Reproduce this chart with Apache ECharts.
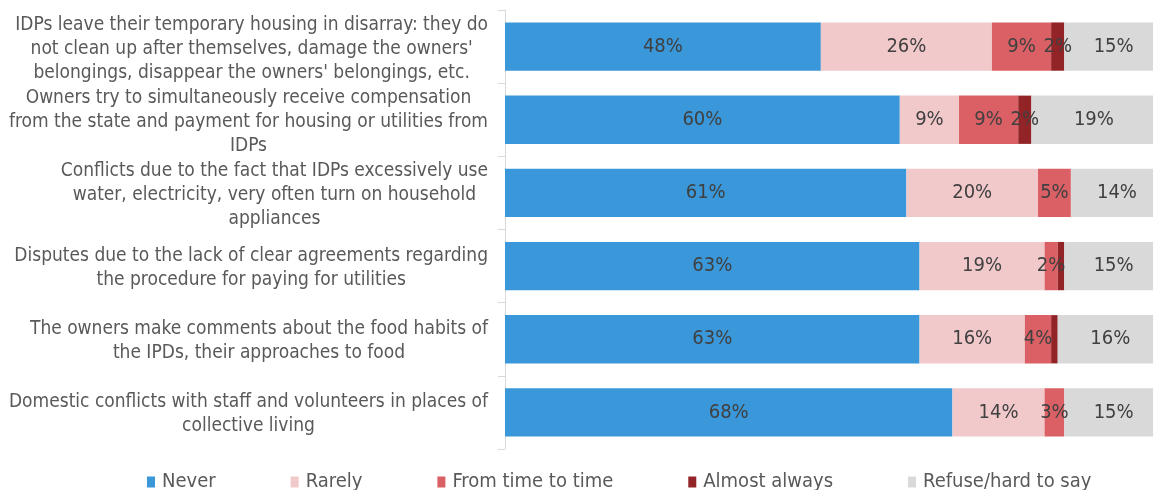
<!DOCTYPE html>
<html>
<head>
<meta charset="utf-8">
<script src="https://cdn.jsdelivr.net/npm/echarts@6/dist/echarts.min.js"></script>
<style>
  html, body { margin: 0; padding: 0; background: #fff; overflow: hidden; }
  #chart { width: 1163px; height: 490px; }
</style>
</head>
<body>
<div id="chart"></div>
<script>
'use strict';

var categories = [
  'IDPs leave their temporary housing in disarray: they do\nnot clean up after themselves, damage the owners\'\nbelongings, disappear the owners\' belongings, etc.',
  'Owners try to simultaneously receive compensation\nfrom the state and payment for housing or utilities from\nIDPs',
  'Conflicts due to the fact that IDPs excessively use\nwater, electricity, very often turn on household\nappliances',
  'Disputes due to the lack of clear agreements regarding\nthe procedure for paying for utilities',
  'The owners make comments about the food habits of\nthe IPDs, their approaches to food',
  'Domestic conflicts with staff and volunteers in places of\ncollective living'
];

var seriesNames = ['Never', 'Rarely', 'From time to time', 'Almost always', 'Refuse/hard to say'];
var never = [48, 60, 61, 63, 63, 68];
var rarely = [26, 9, 20, 19, 16, 14];
var fromTimeToTime = [9, 9, 5, 2, 4, 3];
var almostAlways = [2, 2, 0, 1, 1, 0];
var refuse = [15, 19, 14, 15, 16, 15];

var colors = ['#3a97d9', '#f2c9cb', '#da6065', '#922428', '#d9d9d9'];
var font = '"DejaVu Sans Condensed", "DejaVu Sans"';

var chart = echarts.init(document.getElementById('chart'));

var makeSeries = function(name, values) {
  return {
    name: name,
    type: 'bar',
    stack: 'total',
    barCategoryGap: '34%',
    data: values,
    label: {
      show: true,
      position: 'inside',
      color: '#404040',
      fontFamily: font,
      fontSize: 20,
      formatter: function(p) { return p.value >= 2 ? p.value + '%' : ''; }
    },
    emphasis: { disabled: true }
  };
};

var allValues = [never, rarely, fromTimeToTime, almostAlways, refuse];
var series = [];
for (var i = 0; i < seriesNames.length; i++) {
  series.push(makeSeries(seriesNames[i], allValues[i]));
}

chart.setOption({
  animation: false,
  color: colors,
  grid: { left: 505, right: 0, top: 10, bottom: 41, containLabel: false },
  xAxis: { type: 'value', min: 0, max: 100, show: false },
  yAxis: {
    type: 'category',
    inverse: true,
    data: categories,
    axisLine: { show: true, lineStyle: { color: '#d9d9d9', width: 1 } },
    axisTick: { show: true, length: 7, lineStyle: { color: '#d9d9d9' } },
    splitLine: { show: false },
    axisLabel: {
      interval: 0,
      showMinLabel: true,
      showMaxLabel: true,
      hideOverlap: false,
      margin: 17,
      align: 'right',
      padding: [4, 0, 0, 0],
      color: '#595959',
      fontFamily: font,
      fontSize: 19,
      lineHeight: 24,
      formatter: function(v) {
        return v.split('\n').map(function(l) { return '{c|' + l + '}'; }).join('\n');
      },
      rich: {
        c: { align: 'center', color: '#595959', fontFamily: font, fontSize: 19, lineHeight: 24 }
      }
    }
  },
  legend: {
    top: 467,
    left: 142,
    itemWidth: 8,
    itemHeight: 11,
    itemGap: 75,
    icon: 'rect',
    textStyle: { color: '#595959', fontFamily: font, fontSize: 20, padding: [0, 0, 0, 2] },
    data: seriesNames
  },
  series: series
});
</script>
</body>
</html>
